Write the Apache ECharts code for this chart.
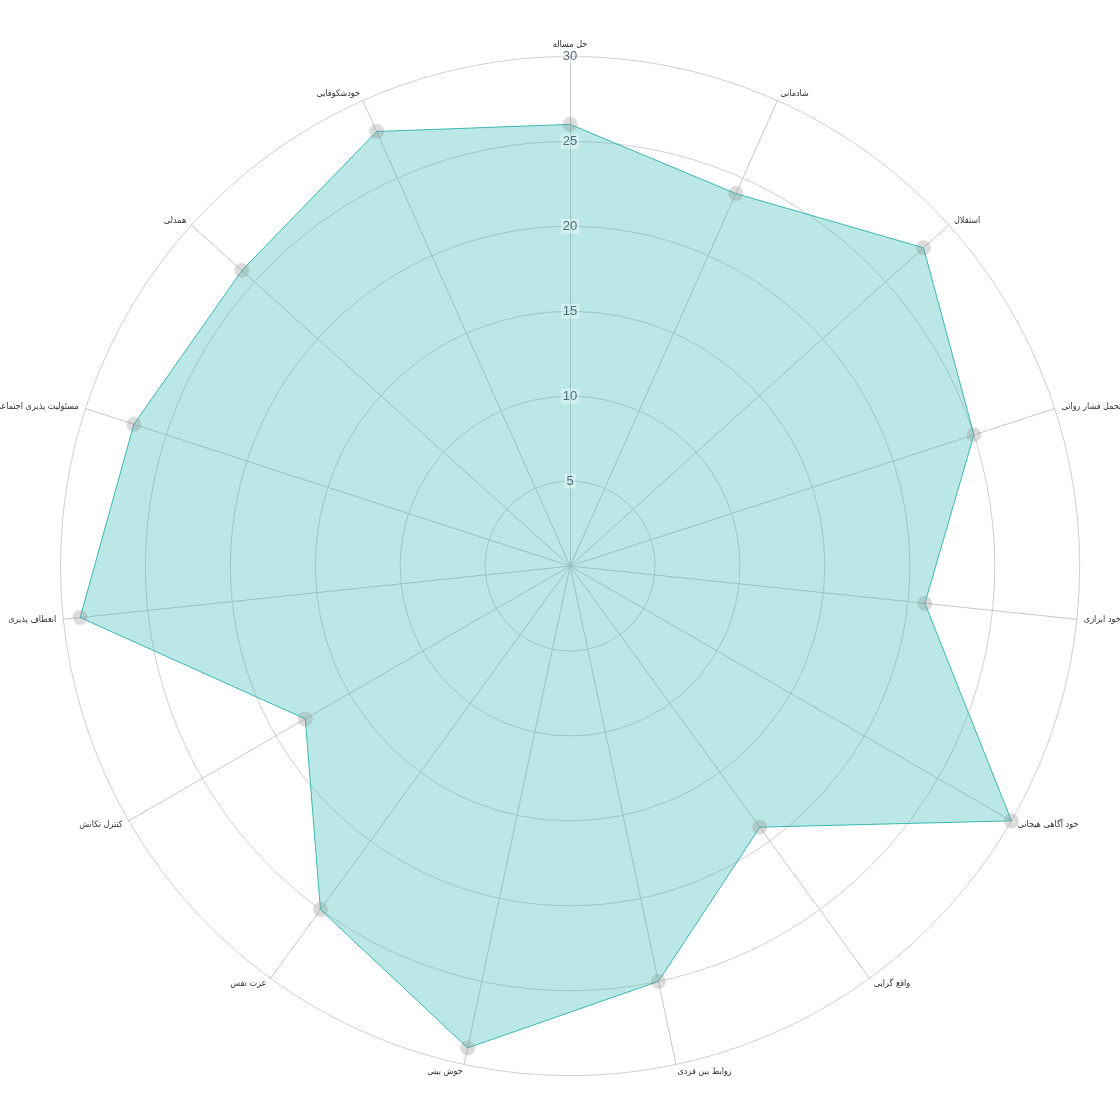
<!DOCTYPE html>
<html><head><meta charset="utf-8">
<script src="https://cdn.jsdelivr.net/npm/echarts@6/dist/echarts.min.js"></script>
<style>html,body{margin:0;padding:0;background:#fff}#c{width:1120px;height:1120px}</style>
</head><body><div id="c"></div>
<script>
// clockwise from top
const categories = ['حل مساله','شادمانی','استقلال','تحمل فشار روانی','خود ابرازی','خود آگاهی هیجانی','واقع گرایی','روابط بین فردی','خوش بینی','عزت نفس','کنترل تکانش','انعطاف پذیری','مسئولیت پذیری اجتماعی','همدلی','خودشکوفایی'];
const values = [26,24,28,25,21,30,19,25,29,25,18,29,27,26,28];
const maxValue = 30;
const tickInterval = 5;

// ECharts places indicators counter-clockwise; reorder so they read clockwise
const order = [0].concat(categories.map((_, i) => i).slice(1).reverse());
const indicators = order.map(i => ({ name: categories[i], max: maxValue }));
const seriesValues = order.map(i => values[i]);

const center = ['50.9%', '50.54%'];
const radius = '91%';

const chart = echarts.init(document.getElementById('c'));
chart.setOption({
  backgroundColor: '#fff',
  animation: false,
  radar: [{
    center, radius, startAngle: 90, splitNumber: maxValue / tickInterval, shape: 'circle',
    indicator: indicators,
    axisName: { color: '#333', fontSize: 9, fontFamily: '"DejaVu Sans Condensed", "DejaVu Sans", sans-serif' },
    nameGap: 7,
    splitLine: { lineStyle: { color: '#d0d0d0', width: 1 } },
    splitArea: { show: false },
    axisLine: { lineStyle: { color: '#c8c8c8', width: 1 } },
    axisTick: { show: false },
    axisLabel: { show: false }
  }, {
    center, radius, startAngle: 90, splitNumber: maxValue / tickInterval, z: 10, shape: 'circle',
    indicator: [{ name: '', max: maxValue, min: 0 }],
    axisName: { show: false },
    splitLine: { show: false },
    splitArea: { show: false },
    axisLine: { show: false },
    axisTick: { show: false },
    axisLabel: {
      show: true, showMinLabel: false, margin: 0, align: 'center', verticalAlign: 'middle',
      color: '#4f6f80', fontSize: 13, fontFamily: 'sans-serif',
      backgroundColor: 'rgba(255,255,255,0.35)', padding: [1, 2]
    }
  }],
  series: [{
    type: 'radar', radarIndex: 0,
    symbol: 'circle', symbolSize: 15,
    itemStyle: { color: 'rgba(140,140,140,0.3)' },
    lineStyle: { color: '#3ab8b3', width: 1 },
    areaStyle: { color: 'rgba(61,189,184,0.5)' },
    data: [{ value: seriesValues }]
  }]
});
</script></body></html>
